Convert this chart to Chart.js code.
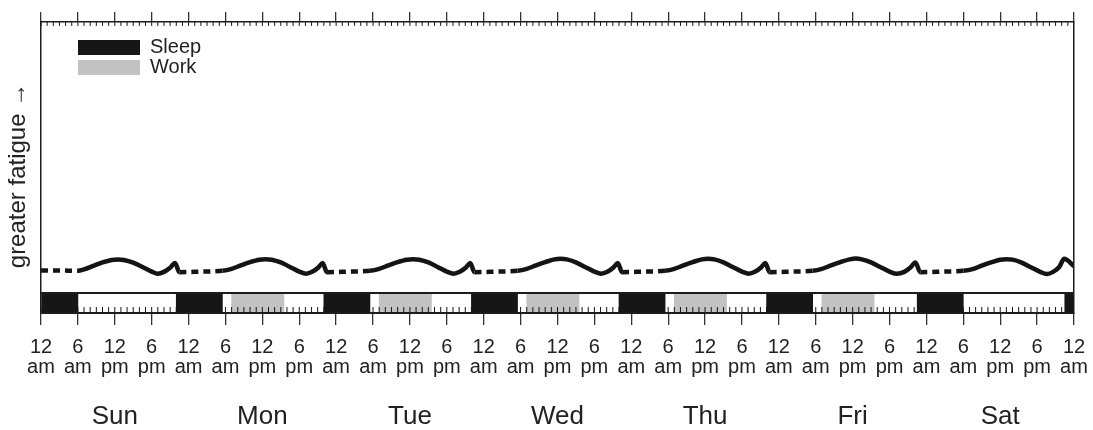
<!DOCTYPE html>
<html><head><meta charset="utf-8">
<script src="https://cdn.jsdelivr.net/npm/chart.js@4.4.1/dist/chart.umd.min.js"></script>
<style>html,body{margin:0;padding:0;background:#fff}#wrap{width:1093px;height:430px;position:relative}</style>
</head><body><div id="wrap"><canvas id="c"></canvas></div>
<script>
// ---- data ----
const dayNames = ['Sun','Mon','Tue','Wed','Thu','Fri','Sat'];
const hourLabels = [['12','am'],['6','am'],['12','pm'],['6','pm']];
const sleepSpans = [[0,6],[22,29.5],[46,53.5],[70,77.5],[94,101.5],[118,125.5],[142.5,150],[166.5,168]];
const workSpans = [[31,39.5],[55,63.5],[79,87.5],[103,111.5],[127,135.5]];
const fatigueHours = [
  0,3,6,7,8.5,10,11.5,12.5,13.5,15,16.5,18,19,20,21,21.8,22.5,26,
  29.5,31,32.5,34,35.5,36.5,37.5,39,40.5,42,43.1,44.1,45.1,45.8,46.5,50,
  53.5,55,56.5,58,59.5,60.5,61.5,63,64.5,66,67.1,68.1,69.1,69.8,70.5,74,
  77.5,79,80.5,82,83.5,84.5,85.5,87,88.5,90,91.1,92.1,93.1,93.8,94.5,98,
  101.5,103,104.5,106,107.5,108.5,109.5,111,112.5,114,115.1,116.1,117.1,117.8,118.5,122,
  125.5,127,128.5,130,131.5,132.5,133.5,135,136.5,138,139.2,140.4,141.4,142.2,143,146.5,
  150,151.5,153,154.5,156,157,158,159.5,161,162.5,163.6,164.6,165.6,166.4,168
];
const fatigueLevels = [
  8.3,8.3,8.2,8.7,10.0,11.3,12.2,12.4,12.2,11.2,9.6,7.9,7.1,7.8,9.3,11.1,7.7,7.9,
  8.2,8.9,10.2,11.4,12.3,12.5,12.3,11.3,9.6,7.9,7.1,7.8,9.4,11.1,7.7,7.9,
  8.2,8.9,10.2,11.4,12.3,12.5,12.3,11.3,9.6,7.9,7.1,7.8,9.4,11.1,7.7,7.9,
  8.2,8.9,10.2,11.4,12.4,12.6,12.4,11.3,9.6,7.9,7.1,7.8,9.4,11.1,7.7,7.9,
  8.2,8.9,10.2,11.4,12.4,12.6,12.4,11.3,9.6,7.9,7.1,7.8,9.4,11.1,7.7,7.9,
  8.2,8.9,10.2,11.4,12.4,12.7,12.4,11.3,9.6,7.9,7.1,7.8,9.4,11.3,7.7,7.9,
  8.2,8.8,10.1,11.3,12.3,12.5,12.3,11.2,9.5,7.8,7.0,7.8,9.6,12.6,9.9
];
// ---- helpers ----
const inSleep = (a,b) => sleepSpans.some(([s,e]) => a >= s && b <= e);
const minorHours = Array.from({length:169}, (_, h) => h);
Chart.defaults.font.family = "'Liberation Sans', Arial, Helvetica, sans-serif";
Chart.defaults.color = '#222';
const INK = '#1c1c1c';

const legendOffset = {
  id: 'legendOffset',
  afterLayout(chart) {
    const l = chart.legend;
    if (!l) return;
    const ca = chart.chartArea;
    l.left = ca.left + 37; l.right = l.left + l.width;
    l.top = ca.top + 15.5; l.bottom = l.top + l.height;
  }
};

new Chart(document.getElementById('c'), {
  type: 'line',
  data: {
    datasets: [
      {type:'bar', label:'Sleep', indexAxis:'y', xAxisID:'x', yAxisID:'yBand',
       data: sleepSpans.map(s => ({x:s, y:0.5})), backgroundColor:'#161616', borderWidth:0,
       barThickness:20, grouped:false},
      {type:'bar', label:'Work', indexAxis:'y', xAxisID:'x', yAxisID:'yBand',
       data: workSpans.map(s => ({x:s, y:0.5})), backgroundColor:'#c2c2c2', borderWidth:0,
       barThickness:20, grouped:false},
      {type:'line', label:'Fatigue', xAxisID:'x', yAxisID:'y',
       data: fatigueHours.map((h,i) => ({x:h, y:fatigueLevels[i]})),
       borderColor:'#141414', borderWidth:4.5, pointRadius:0, cubicInterpolationMode:'monotone',
       borderCapStyle:'butt', borderJoinStyle:'round',
       segment:{borderDash: c => inSleep(c.p0.parsed.x, c.p1.parsed.x) ? [7,5] : undefined}},
      {type:'scatter', label:'minorTop', xAxisID:'x', yAxisID:'y', order:-1,
       data: minorHours.map(h => ({x:h, y:99.3})), pointStyle:'line', pointRotation:90,
       pointRadius:2, pointBorderColor:'#161616', pointBorderWidth:1},
      {type:'scatter', label:'minorBottom', xAxisID:'x', yAxisID:'yBand', order:-1,
       data: minorHours.map(h => ({x:h, y:0.15})), pointStyle:'line', pointRotation:90,
       pointRadius:3, pointBorderColor:'#161616', pointBorderWidth:1}
    ]
  },
  options: {
    responsive:true, maintainAspectRatio:false, animation:false, events:[],
    layout:{padding:{left:4, right:19, top:12, bottom:0}},
    plugins:{
      tooltip:{enabled:false},
      legend:{position:'chartArea', align:'start',
        labels:{boxWidth:62, boxHeight:15, padding:0, color:'#222', font:{size:20},
          filter: item => item.datasetIndex < 2}}
    },
    scales:{
      x:{type:'linear', position:'bottom', min:0, max:168, weight:0,
        afterFit: s => { s.paddingRight = 14; s.height = 77; },
        ticks:{stepSize:6, autoSkip:false, maxRotation:0, padding:12.5, color:'#222',
          font:{size:20, lineHeight:1}, callback: v => hourLabels[(v % 24) / 6]},
        grid:{drawOnChartArea:false, drawTicks:true, tickLength:12, color:'#333', lineWidth:1.3},
        border:{display:true, color:INK, width:1.5, z:1}},
      xDay:{type:'linear', position:'bottom', min:0, max:168, weight:1,
        afterBuildTicks: s => { s.ticks = dayNames.map((d,i) => ({value: 12 + 24*i})); },
        afterFit: s => { s.height = 40; },
        ticks:{autoSkip:false, maxRotation:0, padding:14, color:'#222',
          font:{size:26, lineHeight:1}, callback:(v,i) => dayNames[i]},
        grid:{display:false, drawTicks:false}, border:{display:false}},
      xTop:{type:'linear', position:'top', min:0, max:168,
        ticks:{display:false, stepSize:6},
        grid:{drawOnChartArea:false, tickLength:10, color:'#333', lineWidth:1.3},
        border:{display:true, color:INK, width:1.5, z:1}},
      y:{type:'linear', position:'left', stack:'left', stackWeight:271, weight:1, min:0, max:100,
        ticks:{display:false}, grid:{drawOnChartArea:false, drawTicks:false},
        border:{display:true, color:INK, width:1.5, z:1},
        title:{display:true, text:'greater fatigue \u2192\u2003\u2002', color:'#222',
          font:{size:24}, padding:{top:0, bottom:8.2}}},
      yBand:{type:'linear', position:'left', stack:'left', stackWeight:20, weight:0, min:0, max:1,
        offset:false, ticks:{display:false, stepSize:1},
        grid:{offset:false, drawOnChartArea:true, drawTicks:false, color:INK, lineWidth:2, z:1},
        border:{display:true, color:INK, width:1.5, z:1}},
      yRight:{type:'linear', position:'right', min:0, max:1, ticks:{display:false},
        grid:{drawOnChartArea:false, drawTicks:false},
        border:{display:true, color:INK, width:1.5, z:1}}
    }
  },
  plugins:[legendOffset]
});
</script></body></html>
